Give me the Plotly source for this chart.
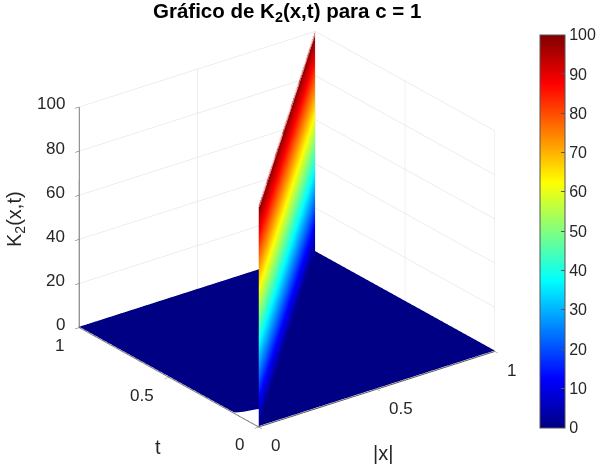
import plotly.graph_objects as go

x_ticks = [0, 0.5, 1]
t_ticks = [0, 0.5, 1]
z_ticks = [0, 20, 40, 60, 80, 100]
bar_ticks = [0, 10, 20, 30, 40, 50, 60, 70, 80, 90, 100]

# floor right of the ridge (|x| > t)
floor_r_x = [[0, 1], [1, 1]]
floor_r_t = [[0, 0], [1, 1]]
floor_r_z = [[0.4, 0.4], [0.4, 0.4]]
# floor left of the ridge (|x| < t), with the rounded notch next to the origin
floor_l_x = [[0, 0, 0.008, 0.03, 0.077, 0.1], [1, 1, 1, 1, 1, 1]]
floor_l_t = [[1, 0.14, 0.132, 0.122, 0.112, 0.1], [1, 1, 1, 1, 1, 1]]
floor_l_z = [[0.4, 0.4, 0.4, 0.4, 0.4, 0.4], [0.4, 0.4, 0.4, 0.4, 0.4, 0.4]]
# ridge wall along |x| = t
wall_x = [[0, 1], [0, 1]]
wall_t = [[0, 1], [0, 1]]
wall_z = [[0, 0], [100, 100]]
# soft fringe along the ridge crest
crest_x = [0, 1]
crest_t = [0, 1]
crest_z = [100, 100]

jet = [[0, "rgb(0,0,131)"], [0.125, "rgb(0,0,255)"], [0.375, "rgb(0,255,255)"],
       [0.625, "rgb(255,255,0)"], [0.875, "rgb(255,0,0)"], [1, "rgb(128,0,0)"]]
flat = dict(ambient=1, diffuse=0, specular=0, roughness=1, fresnel=0)
FONT = "Liberation Sans"
TXT = "#262626"


def surf(x, y, z, scale=False):
    return go.Surface(
        x=x, y=y, z=z, surfacecolor=z, cmin=0, cmax=100, colorscale=jet, lighting=flat,
        showscale=scale, hoverinfo="skip",
        colorbar=dict(
            x=0.9, xanchor="left", xpad=0, ypad=0, thickness=25, thicknessmode="pixels",
            y=0.504, yanchor="middle", lenmode="pixels", len=393,
            tickvals=bar_ticks, ticks="inside", ticklen=4, tickcolor="#555",
            outlinecolor="#555", outlinewidth=1,
            tickfont=dict(family=FONT, size=16, color=TXT),
        ),
    )


def axis(ticks, rng):
    return dict(
        range=rng, tickvals=ticks, title=dict(text=""), showbackground=False,
        gridcolor="#dcdcdc", gridwidth=1, showline=True, linecolor="#555", linewidth=2,
        ticks="outside", ticklen=5, tickcolor="#555", zeroline=False, showspikes=False,
        showticklabels=False,
    )


def tick_note(text, x, y, z, xanchor, xshift, yshift):
    return dict(text=text, x=x, y=y, z=z, showarrow=False, xanchor=xanchor, yanchor="middle",
                xshift=xshift, yshift=yshift, font=dict(family=FONT, size=17, color=TXT))


notes = [tick_note(str(v), 0, 1, v, "right", -12, 3) for v in z_ticks]
notes += [tick_note(str(v), 0, v, 0, "right", -13, -18) for v in t_ticks]
notes += [tick_note(str(v), v, 0, 0, "left", 10, -19) for v in x_ticks]

crest = go.Scatter3d(x=crest_x, y=crest_t, z=crest_z, mode="lines", hoverinfo="skip",
                     line=dict(color="rgba(190,150,155,0.7)", width=4))
fig = go.Figure([surf(floor_r_x, floor_r_t, floor_r_z),
                 surf(floor_l_x, floor_l_t, floor_l_z),
                 surf(wall_x, wall_t, wall_z, scale=True), crest])
R = 1.57
S = 1.273
DZ = -0.018
fig.update_layout(
    width=600, height=466, margin=dict(l=0, r=0, t=0, b=0), paper_bgcolor="white",
    showlegend=False,
    scene=dict(
        domain=dict(x=[0, 0.959], y=[0, 1]),
        xaxis=axis(x_ticks, [0, 1]), yaxis=axis(t_ticks, [0, 1]), zaxis=axis(z_ticks, [0, 100]),
        aspectmode="manual", aspectratio=dict(x=S, y=S, z=0.82 * S),
        annotations=notes,
        camera=dict(projection=dict(type="orthographic"),
                    eye=dict(x=-0.549 * R, y=-0.722 * R, z=0.421 * R + DZ),
                    center=dict(x=0, y=0, z=DZ), up=dict(x=0, y=0, z=1)),
    ),
)
fig.add_annotation(text="<b>Gráfico de K<sub>2</sub>(x,t) para c = 1</b>", x=287 / 600, y=1 - 12 / 466,
                   xref="paper", yref="paper", showarrow=False, xanchor="center", yanchor="middle",
                   font=dict(family=FONT, size=20.5, color="black"))
for text, px, py, ang in [("|x|", 384, 453, 0), ("t", 158, 447, 0), ("K<sub>2</sub>(x,t)", 15, 219, -90)]:
    fig.add_annotation(text=text, x=px / 600, y=1 - py / 466, xref="paper", yref="paper", showarrow=False,
                       xanchor="center", yanchor="middle", textangle=ang,
                       font=dict(family=FONT, size=20, color=TXT))
fig.write_html("out.html", config=dict(displayModeBar=False),
               post_script="document.body.style.margin='0';")
